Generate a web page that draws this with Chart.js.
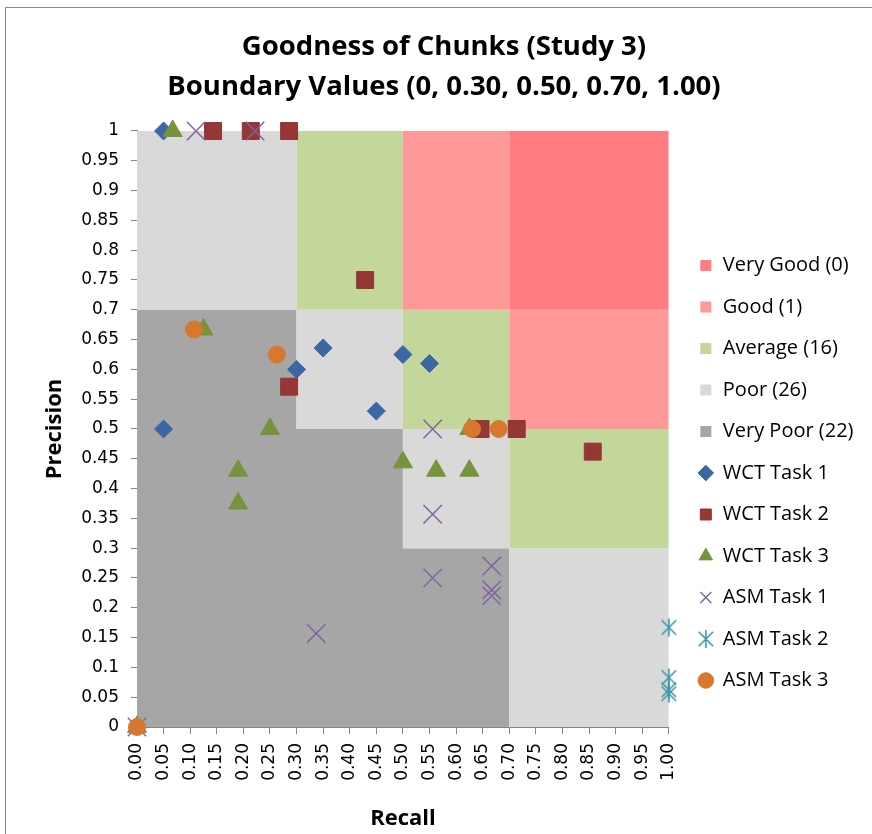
<!DOCTYPE html>
<html>
<head>
<meta charset="utf-8">
<script src="https://cdn.jsdelivr.net/npm/chart.js@4.4.1/dist/chart.umd.min.js"></script>
<style>
    body { margin: 0; background: #fff; overflow: hidden; }
    #frame {
        position: absolute;
        left: 5px;
        top: 7px;
        border-left: 1px solid #8a8a8a;
        border-top: 1px solid #8a8a8a;
    }
    canvas { display: block; }
</style>
</head>
<body>
<div id="frame">
    <canvas id="chart" width="876" height="826"></canvas>
</div>
<script>
// quality bands: upper edge of each band over the recall intervals
const bandEdges = [0, 0.3, 0.5, 0.7, 1.0];
const veryGoodTop = [1, 1, 1, 1, 1];
const goodTop = [1, 1, 1, 0.7, 0.7];
const averageTop = [1, 1, 0.7, 0.5, 0.5];
const poorTop = [1, 0.7, 0.5, 0.3, 0.3];
const veryPoorTop = [0.7, 0.5, 0.3, 0, 0];

const bandLabels = ['Very Good (0)', 'Good (1)', 'Average (16)', 'Poor (26)', 'Very Poor (22)'];

// recall / precision per task
const wct1Recall = [0.05, 0.05, 0.30, 0.35, 0.45, 0.50, 0.55];
const wct1Precision = [1, 0.5, 0.60, 0.636, 0.53, 0.625, 0.61];

const wct2Recall = [0.143, 0.214, 0.286, 0.429, 0.286, 0.646, 0.714, 0.857];
const wct2Precision = [1, 1, 1, 0.75, 0.571, 0.5, 0.5, 0.462];

const wct3Recall = [0.067, 0.125, 0.25, 0.19, 0.19, 0.5, 0.5625, 0.625, 0.625, 0];
const wct3Precision = [1, 0.667, 0.5, 0.43, 0.375, 0.444, 0.43, 0.43, 0.5, 0];

const asm1Recall = [0.111, 0.222, 0.556, 0.556, 0.556, 0.667, 0.667, 0.667, 0.337, 0];
const asm1Precision = [1, 1, 0.5, 0.357, 0.25, 0.27, 0.23, 0.22, 0.157, 0];

const asm2Recall = [1, 1, 1, 1];
const asm2Precision = [0.167, 0.083, 0.0625, 0.056];

const asm3Recall = [0.107, 0.263, 0.63, 0.68, 0];
const asm3Precision = [0.667, 0.625, 0.5, 0.5, 0];

const toPoints = (xs, ys) => xs.map((x, i) => ({ x: x, y: ys[i] }));

// excel style asterisk marker (x with a vertical bar)
function asteriskMarker(size, color) {
    const c = document.createElement('canvas');
    c.width = size;
    c.height = size;
    const g = c.getContext('2d');
    const m = size / 2;
    const d = (size / 2 - 1.5) * 0.85;
    g.strokeStyle = color;
    g.lineWidth = 1.6;
    g.beginPath();
    g.moveTo(m, 1);
    g.lineTo(m, size - 1);
    g.moveTo(m - d, m - d);
    g.lineTo(m + d, m + d);
    g.moveTo(m + d, m - d);
    g.lineTo(m - d, m + d);
    g.stroke();
    return c;
}

function band(label, top, color, fillTo) {
    return {
        type: 'line',
        label: label,
        data: toPoints(bandEdges, top),
        stepped: true,
        fill: fillTo,
        backgroundColor: color,
        borderColor: color,
        borderWidth: 0,
        pointRadius: 0,
        pointHitRadius: 0,
        pointStyle: 'rect',
        order: 20
    };
}

function series(label, xs, ys, style, color, radius, order) {
    return {
        type: 'scatter',
        label: label,
        data: toPoints(xs, ys),
        pointStyle: style,
        pointRadius: radius,
        pointHoverRadius: radius,
        backgroundColor: color,
        borderColor: color,
        borderWidth: 1,
        clip: false,
        order: order
    };
}

const teal = '#3f95ab';
const purple = '#8064a2';

const datasets = [
    band(bandLabels[0], veryGoodTop, '#ff7c80', 1),
    band(bandLabels[1], goodTop, '#ff9999', 2),
    band(bandLabels[2], averageTop, '#c4d79b', 3),
    band(bandLabels[3], poorTop, '#d9d9d9', 4),
    band(bandLabels[4], veryPoorTop, '#a6a6a6', 'origin'),
    series('WCT Task 1', wct1Recall, wct1Precision, 'rectRot', '#3b67a3', 9, 6),
    series('WCT Task 2', wct2Recall, wct2Precision, 'rect', '#953735', 12, 5),
    series('WCT Task 3', wct3Recall, wct3Precision, 'triangle', '#77933c', 11, 4),
    series('ASM Task 1', asm1Recall, asm1Precision, 'crossRot', purple, 13, 3),
    series('ASM Task 2', asm2Recall, asm2Precision, asteriskMarker(20, teal), teal, 10, 2),
    series('ASM Task 3', asm3Recall, asm3Precision, 'circle', '#d7782f', 8.5, 1)
];
datasets[8].borderWidth = 1.5;

// move the legend block off the plot edge and down to the middle of the chart
const legendShift = {
    id: 'legendShift',
    afterLayout(chart) {
        chart.legend.left += 8.5;
        chart.legend.right += 8.5;
        chart.legend.top += 52;
        chart.legend.bottom += 52;
    }
};

const axisGrey = '#868686';
const sidePad = 27;

new Chart(document.getElementById('chart'), {
    type: 'scatter',
    data: { datasets: datasets },
    plugins: [legendShift],
    options: {
        responsive: false,
        animation: false,
        layout: { padding: { left: sidePad, right: sidePad, top: 0, bottom: 0 } },
        plugins: {
            title: {
                display: true,
                text: ['Goodness of Chunks (Study 3)', 'Boundary Values (0, 0.30, 0.50, 0.70, 1.00)'],
                color: '#000',
                font: { family: 'Open Sans', size: 27.5, weight: 'bold', lineHeight: 1.4545 },
                padding: { top: 19, bottom: 24 }
            },
            legend: {
                position: 'right',
                labels: {
                    usePointStyle: true,
                    boxWidth: 14,
                    boxHeight: 11,
                    padding: 21.5,
                    color: '#000',
                    font: { family: 'Open Sans', size: 20 },
                    sort: (a, b) => a.datasetIndex - b.datasetIndex
                }
            },
            tooltip: { enabled: false }
        },
        scales: {
            x: {
                type: 'linear',
                min: 0,
                max: 1,
                afterFit(scale) { scale.height = 107; },
                ticks: {
                    stepSize: 0.05,
                    autoSkip: false,
                    maxRotation: 90,
                    minRotation: 90,
                    padding: 9,
                    color: '#000',
                    font: { family: 'DejaVu Sans', size: 17 },
                    callback: v => v.toFixed(2)
                },
                grid: { drawOnChartArea: false, tickLength: 7, color: axisGrey },
                border: { color: axisGrey },
                title: {
                    display: true,
                    text: 'Recall',
                    color: '#000',
                    font: { family: 'Open Sans', size: 22, weight: 'bold' },
                    padding: { top: 0, bottom: 2 }
                }
            },
            y: {
                type: 'linear',
                min: 0,
                max: 1,
                afterFit(scale) { scale.width = 131 - sidePad; },
                ticks: {
                    stepSize: 0.05,
                    autoSkip: false,
                    padding: 12,
                    color: '#000',
                    font: { family: 'DejaVu Sans', size: 17 },
                    callback: v => String(Math.round(v * 100) / 100)
                },
                grid: { drawOnChartArea: false, tickLength: 6, color: axisGrey },
                border: { color: axisGrey },
                title: {
                    display: true,
                    text: 'Precision',
                    color: '#000',
                    font: { family: 'Open Sans', size: 22, weight: 'bold' },
                    padding: { top: 9, bottom: 0 }
                }
            }
        }
    }
});
</script>
</body>
</html>
